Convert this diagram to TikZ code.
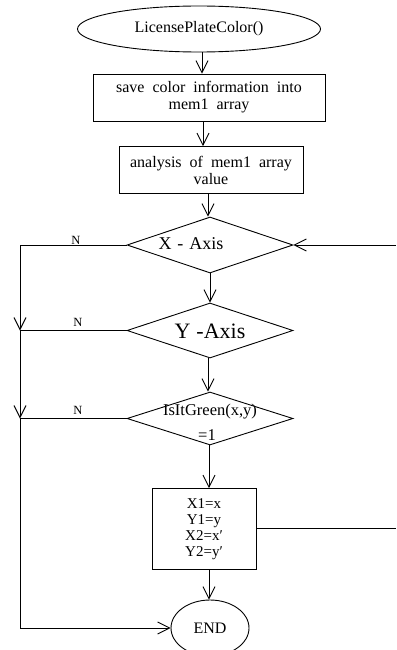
\documentclass[tikz,border=0pt]{standalone}
\usepackage{fontspec}
\setmainfont{Liberation Serif}
\usetikzlibrary{shapes.geometric,arrows.meta}
\begin{document}
\begin{tikzpicture}[x=1pt,y=-1pt,
  every node/.style={font=\fontsize{16}{17}\selectfont},
  base/.style={draw,line width=0.9pt,inner sep=0pt},
  term/.style={base,ellipse},
  procbox/.style={base,rectangle,align=center},
  decision/.style={base,diamond},
  arr/.style={line width=0.9pt,-{Straight Barb[length=12pt,width=12pt,line width=0.9pt]}},
  ln/.style={line width=0.9pt},
  nlab/.style={font=\fontsize{12.5}{13}\selectfont,anchor=south,inner sep=1.5pt}]
\useasboundingbox (0,0) rectangle (396,650);

\node[term,minimum width=243pt,minimum height=46pt] (start) at (199,29) {LicensePlateColor()};
\node[procbox,minimum width=232pt,minimum height=47pt,text width=228pt] (b1) at (209,97.5)
  {save\hspace{8pt}color\hspace{8pt}information\hspace{8pt}into\\mem1\hspace{8pt}array};
\node[procbox,minimum width=184pt,minimum height=47pt,text width=180pt] (b2) at (211,170)
  {analysis\hspace{8pt}of\hspace{8pt}mem1\hspace{8pt}array\\value};
\node[decision,minimum width=166pt,minimum height=56pt] (d1) at (210,245) {};
\node[font=\fontsize{18}{19}\selectfont] (t1) at (191,244) {X\hspace{6pt}-\hspace{6pt}Axis};
\node[decision,minimum width=166pt,minimum height=55pt] (d2) at (210,330.5) {};
\node[font=\fontsize{22}{23}\selectfont] (t2) at (210,331) {Y\hspace{6pt}-Axis};
\node[decision,minimum width=166pt,minimum height=53pt] (d3) at (210,418.5) {};
\node[font=\fontsize{16.5}{17}\selectfont] (t3) at (210,412) {IsItGreen(x,y)};
\node[font=\fontsize{16.5}{17}\selectfont] (t4) at (207,435.5) {=1};
\node[procbox,minimum width=104pt,minimum height=81pt,font=\fontsize{15}{16}\selectfont] (b3) at (204,529)
  {X1=x\\Y1=y\\X2=x′\\Y2=y′};
\node[term,minimum width=78pt,minimum height=56pt] (end) at (210,628) {END};

\coordinate (jX) at (20,245);
\coordinate (jY) at (20,330.5);
\coordinate (jG) at (20,418.5);
\coordinate (jE) at (20,628);
\coordinate (inR) at (396,245);
\coordinate (outR) at (396,528.5);

\draw[arr] ([xshift=3pt]start.south) -- ([xshift=3pt]start.south |- b1.north);
\draw[arr] ([xshift=-6pt]b1.south) -- ([xshift=-6pt]b1.south |- b2.north);
\draw[arr] ([xshift=-3pt]b2.south) -- ([xshift=-3pt]b2.south |- d1.north);
\draw[arr] (d1.south) -- (d2.north);
\draw[arr] ([xshift=-2pt]d2.south) -- ([xshift=-2pt]d2.south |- d3.north);
\draw[arr] ([xshift=-1pt]d3.south) -- ([xshift=-1pt]d3.south |- b3.north);
\draw[arr] ([xshift=5pt]b3.south) -- ([xshift=5pt]b3.south |- end.north);

\draw[ln] (d1.west) -- (jX);
\draw[arr] (jX) -- (jY);
\draw[ln] (d2.west) -- (jY);
\draw[arr] (jY) -- (jG);
\draw[ln] (d3.west) -- (jG);
\draw[ln] (jG) -- (jE);
\draw[arr] (jE) -- (end.west);
\draw[arr] (inR) -- (d1.east);
\draw[ln] (b3.east |- outR) -- (outR);

\node[nlab] (n1) at (76,246) {N};
\node[nlab] (n2) at (78,328) {N};
\node[nlab] (n3) at (78,416) {N};
\end{tikzpicture}
\end{document}
